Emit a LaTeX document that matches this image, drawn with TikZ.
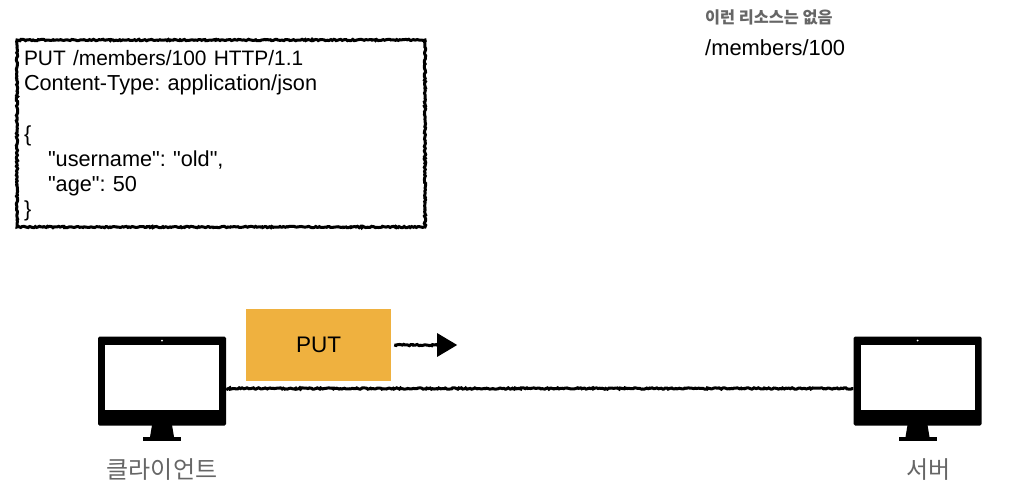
\documentclass[tikz,border=0pt]{standalone}
\usepackage{fontspec}
\setmainfont{Liberation Sans}[Ligatures=TeXOff]
\newfontfamily\krfont{Noto Sans CJK KR}
\usepackage{tikz}
\usetikzlibrary{arrows.meta, positioning, decorations.pathmorphing}
\definecolor{putorange}{HTML}{EFB13F}
\definecolor{softgray}{HTML}{666666}
\frenchspacing
\tikzstyle{rough} = [decorate, decoration={random steps, segment length=1.5pt, amplitude=0.7pt,
    post=lineto, post length=1pt}]
\tikzstyle{msgbox} = [rough, rectangle, draw=black, line width=3pt, minimum width=408pt,
    minimum height=187pt, text width=394pt, inner sep=0pt, align=left,
    font=\fontsize{21.7}{25.2}\selectfont]
\tikzstyle{methodbox} = [rectangle, fill=putorange, minimum width=145pt, minimum height=72pt,
    inner sep=0pt, font=\fontsize{22.5}{26}\selectfont]
\tikzstyle{wire} = [rough, line width=3pt]
\tikzstyle{arrow} = [wire, decoration={post length=20pt}, -{Triangle[length=20pt, width=23pt]}]
\tikzstyle{caption} = [inner sep=0pt, text=softgray, font=\krfont\fontsize{24}{28}\selectfont]
\tikzset{
  monitor/.pic={
    \node[fill=black, rounded corners=1.5pt, minimum width=128pt, minimum height=89pt,
      inner sep=0pt] (-body) at (0,0) {};
    \node[fill=white, minimum width=114pt, minimum height=65pt, inner sep=0pt]
      (-screen) at (0,-3.5) {};
    \fill[white] (0,-40.5) circle (1pt);
    \fill[black] (-10,44) -- (10,44) -- (12,56) -- (-12,56) -- cycle;
    \node[fill=black, minimum width=38pt, minimum height=4pt, inner sep=0pt]
      (-base) at (0,58) {};
  }
}

\begin{document}
\begin{tikzpicture}[x=1pt, y=-1pt]
  \useasboundingbox (0,0) rectangle (1034,488);

  \node[inner sep=0pt, text=softgray, font=\krfont\bfseries\fontsize{16.3}{19}\selectfont,
    anchor=west](note) at (705,17){이런 리소스는 없음};
  \node[inner sep=0pt, font=\fontsize{21.9}{26}\selectfont, below=15pt of note.south west,
    anchor=north west](path){/members/100};

  \node[msgbox](msg) at (221,133.5){\rule{0pt}{20pt}{\fontsize{20.9}{25.2}\selectfont PUT /members/100 HTTP/1.1}\\
    Content-Type: application/json\\
    \mbox{}\\
    \{\\
    \hspace*{24pt}"username": "old",\\
    \hspace*{24pt}"age": 50\\
    \}};

  \pic (client) at (162,381) {monitor};
  \pic (server) at (917.5,381) {monitor};
  \node[caption, below=17pt of client-base](clientname){클라이언트};
  \node[caption, below=17pt of server-base, xshift=11pt](servername){서버};

  \node[methodbox](put) at (318.5,345){PUT};
  \coordinate[right=3pt of put.east](tail);
  \coordinate[right=66pt of put.east](tip);
  \coordinate (link) at (0,388.5);

  \draw[wire](client-body.east |- link)--(server-body.west |- link);
  \draw[arrow](tail)--(tip);
\end{tikzpicture}
\end{document}
